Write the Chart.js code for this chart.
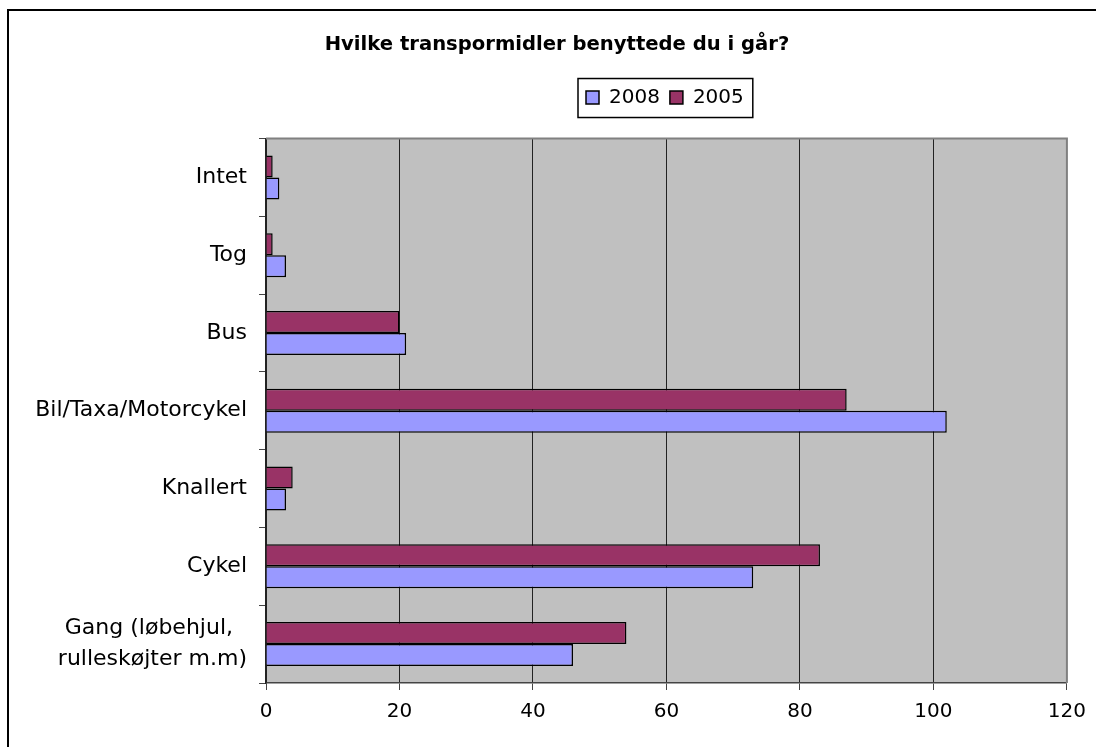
<!DOCTYPE html>
<html>
<head>
<meta charset="utf-8">
<script src="https://cdn.jsdelivr.net/npm/chart.js@4.4.0/dist/chart.umd.min.js"></script>
<style>
  html, body { margin: 0; padding: 0; background: #fff; }
</style>
</head>
<body>
<canvas id="canvas1" width="1096" height="747"></canvas>
<script>
var categories = [
    "Intet",
    "Tog",
    "Bus",
    "Bil/Taxa/Motorcykel",
    "Knallert",
    "Cykel",
    ["Gang (løbehjul,  ", "rulleskøjter m.m)"]
];
var values2005 = [1, 1, 20, 87, 4, 83, 54];
var values2008 = [2, 3, 21, 102, 3, 73, 46];
var xTicks = [0, 20, 40, 60, 80, 100, 120];

var FONT = "'DejaVu Sans', Verdana, sans-serif";

// grey plot area, frame and legend box
var decor = {
    id: 'decor',
    afterLayout: function(chart) {
        // move legend and title to where the original has them
        var lg = chart.legend;
        var dx = 586 - (lg.left + lg.options.labels.padding);
        var dy = -21;
        lg.left += dx; lg.right += dx;
        lg.top += dy; lg.bottom += dy;
        var tb = chart.titleBlock;
        var tdx = 557 - (tb.left + tb.right) / 2;
        tb.left += tdx; tb.right += tdx;
    },
    beforeDraw: function(chart) {
        var ctx = chart.ctx, a = chart.chartArea;
        ctx.save();
        ctx.fillStyle = '#fff';
        ctx.fillRect(0, 0, chart.width, chart.height);
        ctx.fillStyle = '#C0C0C0';
        ctx.fillRect(a.left, a.top, a.right - a.left, a.bottom - a.top);
        // outer frame
        ctx.strokeStyle = '#000';
        ctx.lineWidth = 2;
        ctx.strokeRect(8, 10, chart.width + 20, chart.height + 20);
        // legend frame
        var hb = chart.legend.legendHitBoxes;
        if (hb && hb.length) {
            var last = hb[hb.length - 1];
            var l = hb[0].left - 8, r = last.left + last.width + 9;
            var t = hb[0].top - 9, b = hb[0].top + hb[0].height + 10;
            ctx.lineWidth = 1.5;
            ctx.strokeRect(l, t, r - l, b - t);
        }
        ctx.restore();
    },
    beforeDatasetsDraw: function(chart) {
        var ctx = chart.ctx, a = chart.chartArea;
        ctx.save();
        ctx.strokeStyle = '#808080';
        ctx.lineWidth = 2;
        ctx.beginPath();
        ctx.moveTo(a.left, a.top);
        ctx.lineTo(a.right, a.top);
        ctx.lineTo(a.right, a.bottom);
        ctx.stroke();
        ctx.restore();
    }
};

new Chart(document.getElementById('canvas1'), {
    type: 'bar',
    data: {
        labels: categories,
        datasets: [{
            label: '2005',
            data: values2005,
            backgroundColor: '#993366',
            borderColor: '#000',
            borderWidth: 1.5,
            categoryPercentage: 0.566,
            barPercentage: 1.0
        }, {
            label: '2008',
            data: values2008,
            backgroundColor: '#9999FF',
            borderColor: '#000',
            borderWidth: 1.5,
            categoryPercentage: 0.566,
            barPercentage: 1.0
        }]
    },
    options: {
        indexAxis: 'y',
        responsive: false,
        animation: false,
        layout: { padding: { left: 0, right: 29, top: 0, bottom: 0 } },
        plugins: {
            title: {
                display: true,
                text: 'Hvilke transpormidler benyttede du i går?',
                color: '#000',
                font: { family: FONT, size: 19.6, weight: 'bold' },
                padding: { top: 33, bottom: 42 }
            },
            legend: {
                position: 'top',
                align: 'start',
                reverse: true,
                labels: {
                    color: '#000',
                    font: { family: FONT, size: 20 },
                    boxWidth: 13,
                    boxHeight: 13,
                    padding: 10
                }
            },
            tooltip: { enabled: false }
        },
        scales: {
            x: {
                min: 0,
                max: 120,
                afterBuildTicks: function(scale) {
                    scale.ticks = xTicks.map(function(v) { return { value: v }; });
                },
                afterFit: function(scale) { scale.height = 64; },
                grid: {
                    color: '#222',
                    lineWidth: 1,
                    tickColor: '#444',
                    tickLength: 7
                },
                border: { color: '#444', width: 1.5 },
                ticks: {
                    color: '#000',
                    font: { family: FONT, size: 20 },
                    padding: 10,
                    maxRotation: 0
                }
            },
            y: {
                afterFit: function(scale) { scale.width = 266; },
                grid: {
                    drawOnChartArea: false,
                    offset: true,
                    tickColor: '#444',
                    tickLength: 7
                },
                border: { color: '#222', width: 1.5 },
                ticks: {
                    color: '#000',
                    font: { family: FONT, size: 22, lineHeight: 1.4 },
                    padding: 12
                }
            }
        }
    },
    plugins: [decor]
});
</script>
</body>
</html>
